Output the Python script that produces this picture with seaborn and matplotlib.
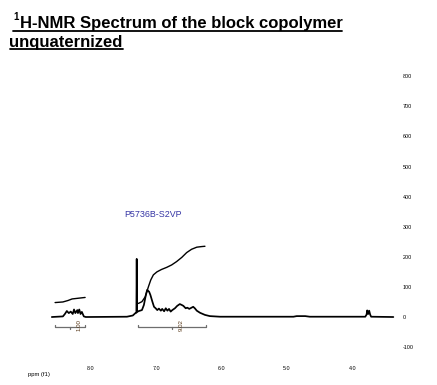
import matplotlib
matplotlib.use("Agg")
import matplotlib.pyplot as plt
import seaborn as sns
import pandas as pd
from matplotlib.lines import Line2D
from matplotlib.ticker import FormatStrFormatter

# --- spectrum (ppm, intensity) ---
spec_ppm = [8.60, 8.43, 8.40, 8.37, 8.34, 8.31, 8.28, 8.26, 8.24, 8.21, 8.20, 8.18, 8.16, 8.14,
            8.11, 8.08, 7.45, 7.36, 7.32, 7.305, 7.300, 7.295, 7.265, 7.22, 7.19, 7.16, 7.14,
            7.11, 7.09, 7.06, 7.035, 7.01, 6.985, 6.96, 6.93, 6.91, 6.88, 6.855, 6.83, 6.805,
            6.78, 6.755, 6.715, 6.68, 6.64, 6.61, 6.585, 6.55, 6.525, 6.495, 6.46, 6.435, 6.41,
            6.38, 6.33, 6.255, 6.18, 6.025, 4.90, 4.85, 4.72, 4.65, 3.80, 3.78, 3.77, 3.755,
            3.74, 3.725, 3.71, 3.37]
spec_int = [0, 2, 10, 20, 13, 18, 10, 25, 13, 23, 13, 25, 10, 17,
            2, 0, 1, 5, 13, 14, 193, 17, 20, 23, 40, 73, 90,
            84, 73, 51, 34, 29, 23, 28, 21, 27, 19, 29, 21, 27,
            18, 23, 29, 37, 43, 40, 37, 29, 31, 27, 31, 34, 29,
            21, 14, 7, 3, 1, 1, 3, 3, 1, 1, 8, 22, 10,
            21, 8, 1, 0]

# --- integral curves ---
int1_ppm = [8.55, 8.43, 8.35, 8.29, 8.21, 8.09]
int1_val = [48, 50, 55, 60, 62, 65]
int2_ppm = [7.275, 7.22, 7.17, 7.12, 7.085, 7.045, 6.99, 6.92, 6.84, 6.765, 6.69, 6.61,
            6.535, 6.46, 6.38, 6.305, 6.255]
int2_val = [45, 51, 67, 101, 123, 140, 150, 158, 165, 173, 184, 198, 214, 225, 232, 234, 235]

# --- integral regions and values ---
region_start = [8.55, 7.275]
region_end = [8.09, 6.245]
region_labels = ["1.00", "9.02"]

x_ticks = [8.0, 7.0, 6.0, 5.0, 4.0]
y_ticks = [-100, 0, 100, 200, 300, 400, 500, 600, 700, 800]

W, H = 437, 385
sns.set_style("white")
plt.rcParams['font.family'] = ['Liberation Sans', 'DejaVu Sans']
plt.rcParams['text.color'] = 'black'
plt.rcParams['xtick.color'] = 'black'
plt.rcParams['ytick.color'] = 'black'
plt.rcParams['axes.unicode_minus'] = False

fig = plt.figure(figsize=(W / 100, H / 100), dpi=100)
ax = fig.add_axes([40 / W, 1 - 355 / H, 360 / W, 285 / H])

spec = pd.DataFrame({"ppm": spec_ppm, "intensity": spec_int})
sns.lineplot(data=spec, x="ppm", y="intensity", sort=False, estimator=None,
             color="black", lw=1.25, ax=ax)
for xs, ys in [(int1_ppm, int1_val), (int2_ppm, int2_val)]:
    sns.lineplot(x=xs, y=ys, sort=False, estimator=None, color="black", lw=1.0, ax=ax)

# integral brackets
for a, b, lab in zip(region_start, region_end, region_labels):
    ax.plot([a, a, b, b], [-25, -32, -32, -25], color="#6e6e6e", lw=0.9)
    mid = (a + b) / 2
    ax.plot([mid, mid], [-32, -40], color="#6e6e6e", lw=0.9)
    ax.text(mid - 0.145, -27, lab, rotation=90, ha="center", va="center",
            fontsize=4.4, color="#5a3a1a")

ax.text(7.495, 339, "P5736B-S2VP", color="#3535a5", fontsize=6.4, ha="left", va="center")

ax.set_xlim(8.781, 3.268)
ax.set_ylim(-126.2, 820.6)
ax.set_xticks(x_ticks)
ax.set_yticks(y_ticks)
ax.xaxis.set_major_formatter(FormatStrFormatter('%.1f'))
ax.yaxis.tick_right()
ax.tick_params(axis="x", length=0, pad=8, labelsize=3.9)
ax.tick_params(axis="y", length=0, pad=2.2, labelsize=3.9)
ax.set_xlabel("")
ax.set_ylabel("")
for s in ax.spines.values():
    s.set_visible(False)
ax.patch.set_alpha(0)

fig.text(27.5 / W, 1 - 374.3 / H, "ppm (f1)", fontsize=4.2, ha="left", va="center")

# title with superscript and underline
t1 = fig.text(19.5 / W, 1 - 28.3 / H, "H-NMR Spectrum of the block copolymer",
              fontsize=12, fontweight="bold", ha="left", va="baseline")
sup = fig.text(13 / W, 1 - 20 / H, "1", fontsize=7, fontweight="bold", ha="left", va="baseline")
t2 = fig.text(9.5 / W, 1 - 46.7 / H, "unquaternized",
              fontsize=12, fontweight="bold", ha="left", va="baseline")

fig.canvas.draw()
r = fig.canvas.get_renderer()
for left, txt, y_px in [(sup, t1, 30.8), (t2, t2, 49.4)]:
    x0 = left.get_window_extent(r).x0
    x1 = txt.get_window_extent(r).x1
    fig.add_artist(Line2D([x0 / W, x1 / W], [1 - y_px / H, 1 - y_px / H],
                          transform=fig.transFigure, color="black", lw=1.3))

fig.savefig("out.png", dpi=100)
